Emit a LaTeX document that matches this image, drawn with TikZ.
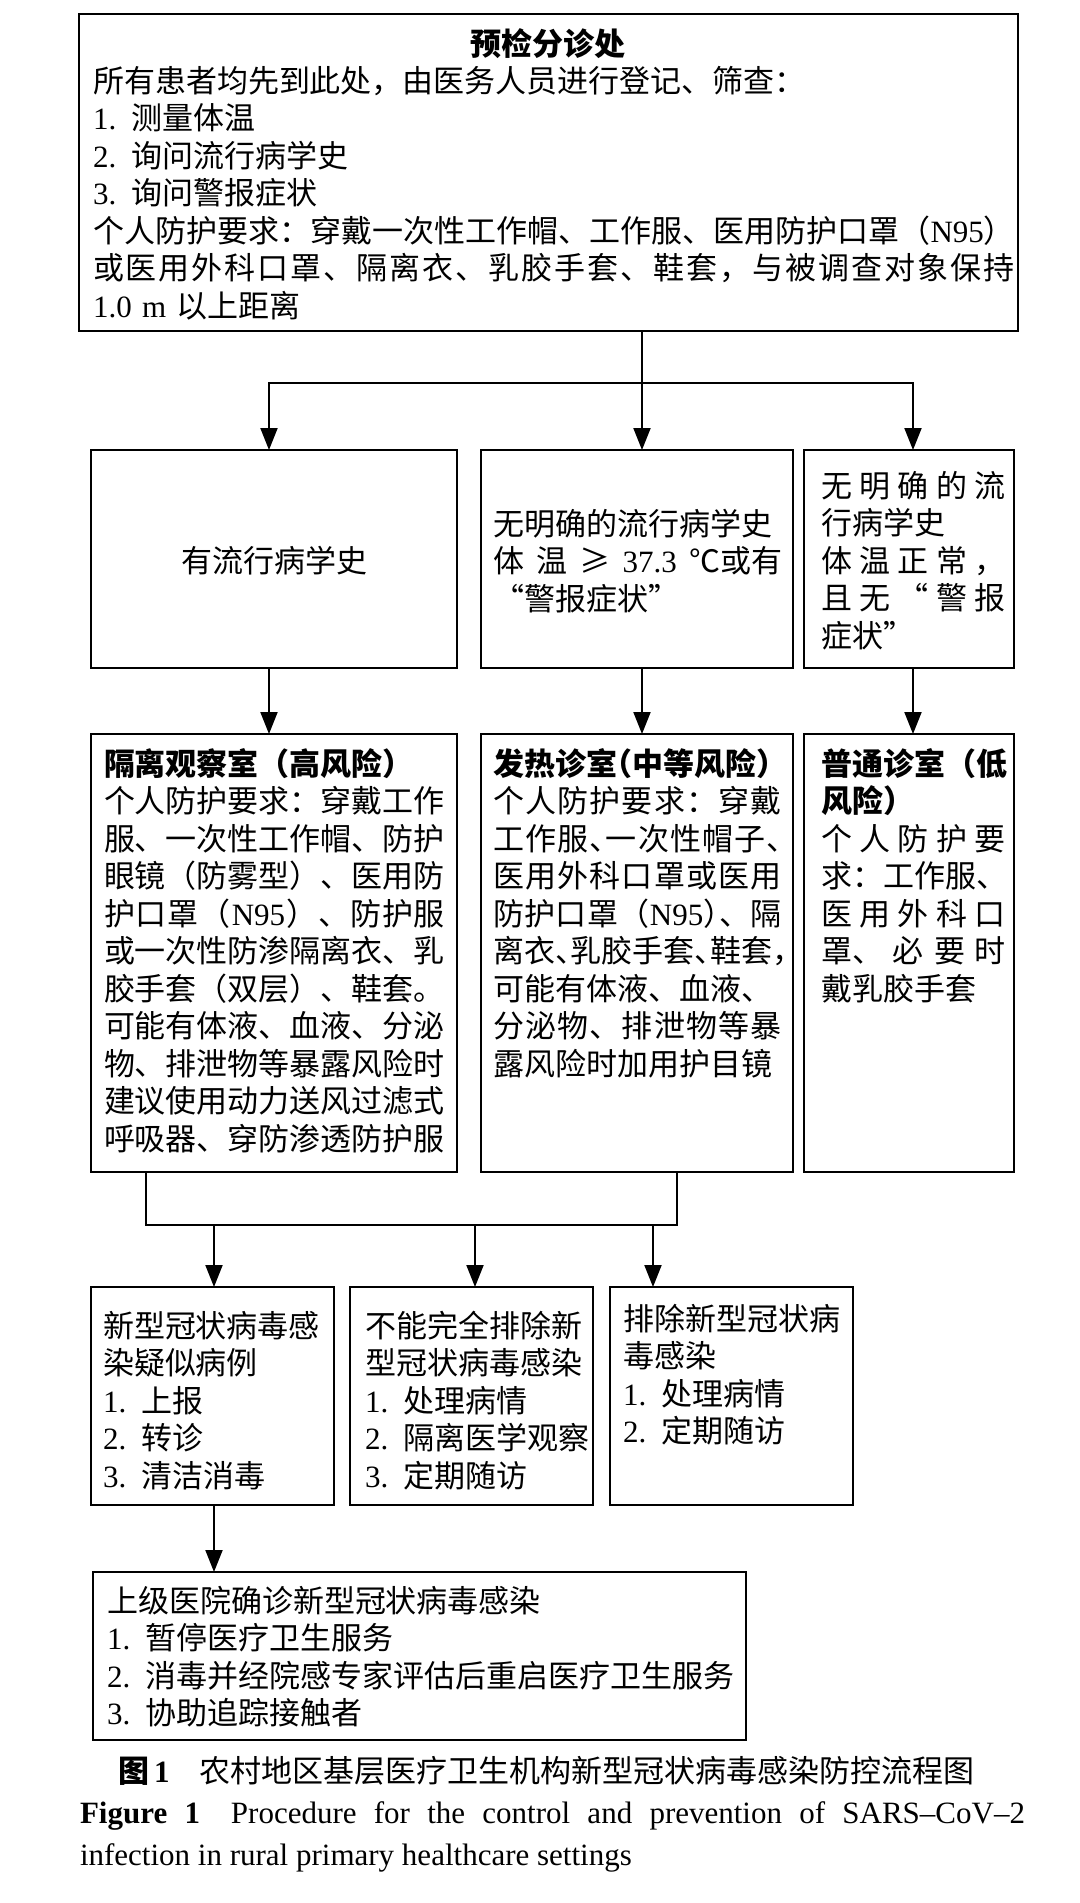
\documentclass[tikz,border=0pt]{standalone}
\usepackage{fontspec}
\setmainfont{Liberation Serif}
\newfontfamily\cjk{Noto Sans CJK SC}
\usetikzlibrary{arrows.meta}
\newcommand\ld[1]{{\rmfamily #1}}
\newcommand\hk{\kern-0.5em}
\makeatletter
\def\jus#1#2{\leavevmode\hbox to #1{\jus@a#2\relax}}
\def\jus@a#1{{#1}\jus@b}
\def\jus@b#1{\ifx\relax#1\else\hskip 0pt plus 1fil{#1}\expandafter\jus@b\fi}
\makeatother
\newcommand\bx[5]{\node[box,anchor=north west,minimum width={(#4-#2)*0.5pt},minimum height={(#5-#3)*0.5pt}] (#1) at (#2,#3) {};}
\tikzset{
  box/.style={draw, line width=1.4pt, inner sep=0pt, outer sep=0pt},
  conn/.style={line width=1pt, line cap=rect},
  arr/.style={line width=1pt, -{Triangle[length=11pt,width=8.5pt]}},
  txt/.style={inner sep=0pt, outer sep=0pt, font=\cjk\fontsize{15.5pt}{18.75pt}\selectfont, align=left},
  captxt/.style={inner sep=0pt, outer sep=0pt, font=\rmfamily\fontsize{15.5pt}{18.75pt}\selectfont},
}
\begin{document}
\begin{tikzpicture}[x=0.5pt,y=-0.5pt]
\fill[white] (0,0) rectangle (1080,1903);
\useasboundingbox (0,0) rectangle (1080,1903);
% top box
\bx{top}{79}{14}{1018}{331}
\node[txt, anchor=base] (t0) at (548,55) {\bfseries 预检分诊处};
\node[txt, text width=470pt, anchor=base west] (t1) at (93,92) {所有患者均先到此处，由医务人员进行登记、筛查：\\
\ld{1. }测量体温\\
\ld{2. }询问流行病学史\\
\ld{3. }询问警报症状\\
\jus{461pt}{个人防护要求：穿戴一次性工作帽、工作服、医用防护口罩（{\ld{N95}}）}\\
\jus{461pt}{或医用外科口罩、隔离衣、乳胶手套、鞋套，与被调查对象保持}\\
\ld{1.0 m }以上距离};
% row 2
\bx{r2a}{91}{450}{457}{668}
\bx{r2b}{481}{450}{793}{668}
\bx{r2c}{804}{450}{1014}{668}
\node[txt, anchor=base] (t2a) at (274,572) {有流行病学史};
\node[txt, text width=150pt, anchor=base west] (t2b) at (493,535) {无明确的流行病学史\\
\jus{144.5pt}{体温≥{\ld{37.3}}{℃或有}}\\
“警报症状”};
\node[txt, text width=95pt, anchor=base west] (t2c) at (821,497) {\jus{92.5pt}{无明确的流}\\
行病学史\\
\jus{92.5pt}{体温正常，}\\
\jus{92.5pt}{且无“警报}\\
症状”};
% row 3
\bx{r3a}{91}{734}{457}{1172}
\bx{r3b}{481}{734}{793}{1172}
\bx{r3c}{804}{734}{1014}{1172}
\node[txt, text width=175pt, anchor=base west] (t3a) at (104,775) {{\bfseries 隔离观察室（高风险）}\\
个人防护要求：穿戴工作\\
服、一次性工作帽、防护\\
眼镜（防雾型）、医用防\\
\jus{170.5pt}{护口罩（{\ld{N95}}）、防护服}\\
或一次性防渗隔离衣、乳\\
胶手套（双层）、鞋套。\\
可能有体液、血液、分泌\\
物、排泄物等暴露风险时\\
建议使用动力送风过滤式\\
呼吸器、穿防渗透防护服};
\node[txt, text width=150pt, anchor=base west] (t3b) at (493,775) {{\bfseries 发热诊室\hk（中等风险）}\\
\jus{144.5pt}{个人防护要求：穿戴}\\
\jus{144.5pt}{工作服{、\hk}一次性帽子{、\hk}}\\
\jus{144.5pt}{医用外科口罩或医用}\\
\jus{144.5pt}{防护口罩（{\ld{N95}}{）\hk}、隔}\\
\jus{144.5pt}{离衣{、\hk}乳胶手套{、\hk}鞋套{，\hk}}\\
可能有体液、血液、\\
\jus{144.5pt}{分泌物、排泄物等暴}\\
露风险时加用护目镜};
\node[txt, text width=97pt, anchor=base west] (t3c) at (821,775) {{\bfseries 普通诊室（低}\\
{\bfseries 风险）}\\
\jus{92.5pt}{个人防护要}\\
求：工作服、\\
\jus{92.5pt}{医用外科口}\\
\jus{92.5pt}{{罩、}必要时}\\
戴乳胶手套};
% row 4
\bx{r4a}{91}{1287}{334}{1505}
\bx{r4b}{350}{1287}{593}{1505}
\bx{r4c}{610}{1287}{853}{1505}
\node[txt, text width=118pt, anchor=base west] (t4a) at (103,1337) {新型冠状病毒感\\
染疑似病例\\
\ld{1. }上报\\
\ld{2. }转诊\\
\ld{3. }清洁消毒};
\node[txt, text width=118pt, anchor=base west] (t4b) at (365,1337) {不能完全排除新\\
型冠状病毒感染\\
\ld{1. }处理病情\\
\ld{2. }隔离医学观察\\
\ld{3. }定期随访};
\node[txt, text width=118pt, anchor=base west] (t4c) at (623,1330) {排除新型冠状病\\
毒感染\\
\ld{1. }处理病情\\
\ld{2. }定期随访};
% row 5
\bx{r5}{93}{1572}{746}{1740}
\node[txt, text width=320pt, anchor=base west] (t5) at (107,1612) {上级医院确诊新型冠状病毒感染\\
\ld{1. }暂停医疗卫生服务\\
\ld{2. }消毒并经院感专家评估后重启医疗卫生服务\\
\ld{3. }协助追踪接触者};
% caption
\node[txt, anchor=base west] (cap1) at (118,1782) {{\bfseries 图\,\ld{1}}\hspace{15pt}农村地区基层医疗卫生机构新型冠状病毒感染防控流程图};
\node[captxt, anchor=base west] (cap2) at (80,1823) {\makebox[472.5pt][s]{\textbf{Figure 1}\quad Procedure for the control and prevention of SARS–CoV–2}};
\node[captxt, anchor=base west] (cap3) at (80,1865) {infection in rural primary healthcare settings};
% connectors
\coordinate (j0) at (642,383);
\coordinate (jl) at (269,383);
\coordinate (jr) at (913,383);
\draw[conn] (top.south -| j0) -- (j0);
\draw[conn] (jl) -- (jr);
\draw[arr] (jl) -- (jl |- r2a.north);
\draw[arr] (j0) -- (j0 |- r2b.north);
\draw[arr] (jr) -- (jr |- r2c.north);
\draw[arr] (r2a.south -| jl) -- (jl |- r3a.north);
\draw[arr] (r2b.south -| j0) -- (j0 |- r3b.north);
\draw[arr] (r2c.south -| jr) -- (jr |- r3c.north);
\coordinate (k1) at (146,1225);
\coordinate (k2) at (677,1225);
\draw[conn] (r3a.south -| k1) -- (k1) -- (k2) -- (r3b.south -| k2);
\coordinate (ka) at (214,1225);
\coordinate (kb) at (475,1225);
\coordinate (kc) at (653,1225);
\draw[arr] (ka) -- (ka |- r4a.north);
\draw[arr] (kb) -- (kb |- r4b.north);
\draw[arr] (kc) -- (kc |- r4c.north);
\draw[arr] (r4a.south -| ka) -- (ka |- r5.north);
\end{tikzpicture}
\end{document}
